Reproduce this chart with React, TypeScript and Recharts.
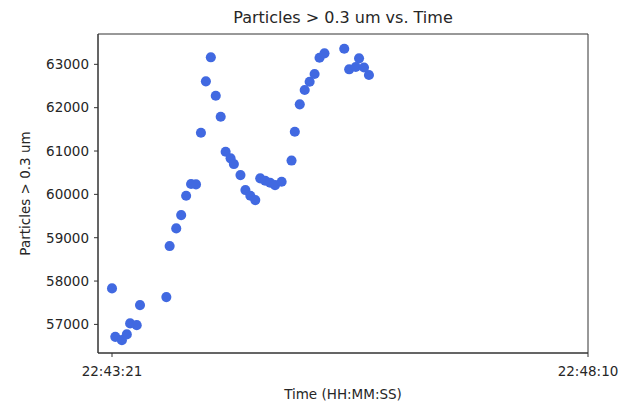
import React from "react";
import {
  ScatterChart,
  Scatter,
  XAxis,
  YAxis,
  ZAxis,
  ReferenceArea
} from "recharts";

// seconds since 22:43:21
const seconds = [
  0, 2, 6, 9, 11, 15, 17, 33, 35, 39, 42, 45, 48, 51, 54, 57, 60, 63, 66, 69, 72,
  74, 78, 81, 84, 87, 90, 93, 96, 99, 103, 109, 111, 114, 117, 120, 123, 126,
  129, 141, 144, 148, 150, 153, 156
];

const particles = [
  57830, 56713, 56637, 56769, 57023, 56983, 57445, 57630, 58807, 59215, 59522,
  59967, 60238, 60230, 61421, 62608, 63162, 62275, 61791, 60983, 60831, 60699,
  60445, 60099, 59967, 59868, 60369, 60314, 60267, 60214, 60291, 60780, 61445,
  62077, 62407, 62598, 62776, 63152, 63254, 63360, 62885, 62938, 63138, 62926,
  62753
];

const xTickSeconds = [0, 289];
const xTickLabels = ["22:43:21", "22:48:10"];
const yTicks = [57000, 58000, 59000, 60000, 61000, 62000, 63000];

const xDomain = [-8.5, 289];
const yDomain = [56340, 63700];

const data = seconds.map((s, i) => ({ t: s, value: particles[i] }));

const font = "'DejaVu Sans', sans-serif";
const textColor = "#262626";
const axisColor = "#333";

const App = () => {
  return (
    <div style={{ position: "absolute", left: 0, top: 0, width: 633, height: 406 }}>
      <div
        style={{
          position: "absolute",
          left: 98,
          width: 490,
          top: 8,
          textAlign: "center",
          fontFamily: font,
          fontSize: 16,
          color: textColor,
          lineHeight: "20px"
        }}
      >
        Particles &gt; 0.3 um vs. Time
      </div>
      <ScatterChart
        width={633}
        height={406}
        margin={{ top: 34, right: 45, bottom: 0, left: 18 }}
        style={{ fontFamily: font }}
      >
        <ZAxis range={[80, 80]} />
        <XAxis
          dataKey="t"
          type="number"
          domain={xDomain}
          ticks={xTickSeconds}
          tickFormatter={(v) => xTickLabels[xTickSeconds.indexOf(v)]}
          height={53}
          tickSize={4}
          tickMargin={9}
          stroke={axisColor}
          tick={{ fill: textColor, fontSize: 13.5 }}
          label={{
            value: "Time (HH:MM:SS)",
            position: "insideBottom",
            offset: 7,
            fill: textColor,
            fontSize: 13.5
          }}
        />
        <YAxis
          dataKey="value"
          type="number"
          domain={yDomain}
          ticks={yTicks}
          width={80}
          tickSize={4}
          tickMargin={5}
          stroke={axisColor}
          tick={{ fill: textColor, fontSize: 13.5 }}
          label={{
            value: "Particles > 0.3 um",
            angle: -90,
            position: "insideLeft",
            offset: 7,
            style: { textAnchor: "middle" },
            fill: textColor,
            fontSize: 13.5
          }}
        />
        <ReferenceArea
          x1={xDomain[0]}
          x2={xDomain[1]}
          y1={yDomain[0]}
          y2={yDomain[1]}
          fill="none"
          stroke={axisColor}
          strokeWidth={1}
          ifOverflow="extendDomain"
        />
        <Scatter data={data} fill="#4169E1" isAnimationActive={false} />
      </ScatterChart>
    </div>
  );
};

export default App;
